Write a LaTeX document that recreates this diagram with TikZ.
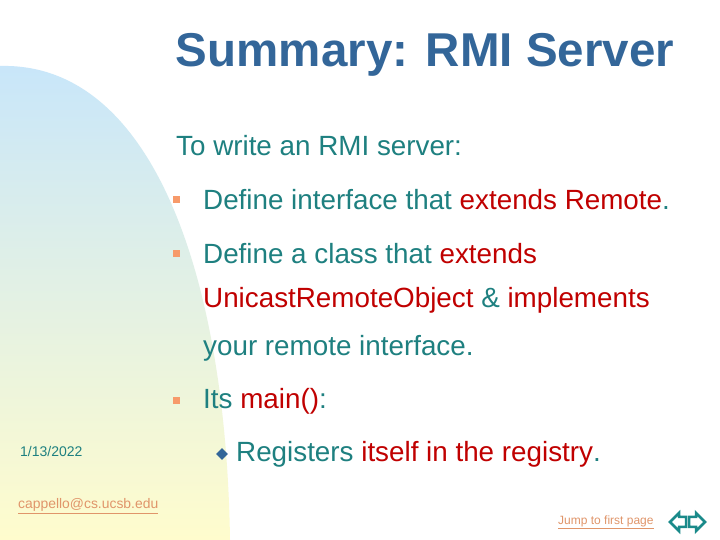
\documentclass[tikz,border=0pt]{standalone}
\usepackage{fontspec}
\setmainfont{Liberation Sans}
\usetikzlibrary{shapes.geometric}
\definecolor{teal1}{HTML}{1E8080}
\definecolor{red1}{HTML}{C00000}
\definecolor{title1}{HTML}{336699}
\definecolor{bul}{HTML}{F79A6A}
\definecolor{link}{HTML}{E0956A}
\definecolor{dia}{HTML}{336699}
\definecolor{arr}{HTML}{1A8A8A}
\begin{document}
\begin{tikzpicture}[x=1pt,y=1pt,
 txt/.style={anchor=west,inner sep=0pt,text=teal1,font=\fontsize{27.8}{28}\selectfont},
 sq/.style={fill=bul,minimum size=7pt,inner sep=0pt},
 small/.style={anchor=west,inner sep=0pt,font=\fontsize{14}{14}\selectfont}]
\useasboundingbox (0,0) rectangle (720,540);
\fill[white] (0,0) rectangle (720,540);
\shade[top color={rgb,255:red,200;green,230;blue,250}, bottom color={rgb,255:red,255;green,252;blue,205}]
  (0,0) -- (0,474) .. controls (150,478) and (226,270) .. (230,0) -- cycle;
\node[inner sep=0pt,text=title1,font=\fontsize{47.5}{48}\selectfont\bfseries] (title) at (425,485) {Summary: RMI Server};
\node[txt] (intro) at (176,394) {To write an RMI server:};
\node[sq] (b1) at (176,340) {};
\node[txt] (t1) at (203,340) {Define interface that \textcolor{red1}{extends Remote}.};
\node[sq] (b2) at (176,286) {};
\node[txt] (t2) at (203,286) {Define a class that \textcolor{red1}{extends}};
\node[txt] (t3) at (203,240) {\textcolor{red1}{UnicastRemoteObject} \& \textcolor{red1}{implements}};
\node[txt] (t4) at (203,192) {your remote interface.};
\node[sq] (b3) at (176,139) {};
\node[txt] (t5) at (203,139) {Its \textcolor{red1}{main()}:};
\node[diamond,fill=dia,minimum size=12pt,inner sep=0pt] (d1) at (222,86) {};
\node[txt] (t6) at (236,86) {Registers \textcolor{red1}{itself in the registry}.};
\node[small,text=teal1] (date) at (20,89) {1/13/2022};
\node[small,text=link,font=\fontsize{13.9}{14}\selectfont] (mail) at (18,34) {\underline{cappello@cs.ucsb.edu}};
\node[small,text=link,font=\fontsize{12}{12}\selectfont] (jump) at (558,18) {\underline{Jump to first page}};
\draw[arr,line width=2.5pt,line join=miter]
 (670,18) -- (679,27) -- (679,23) -- (686,23) -- (686,13) -- (679,13) -- (679,9) -- cycle;
\draw[arr,line width=2.5pt,line join=miter]
 (705,18) -- (696,27) -- (696,23) -- (689,23) -- (689,13) -- (696,13) -- (696,9) -- cycle;
\end{tikzpicture}
\end{document}
